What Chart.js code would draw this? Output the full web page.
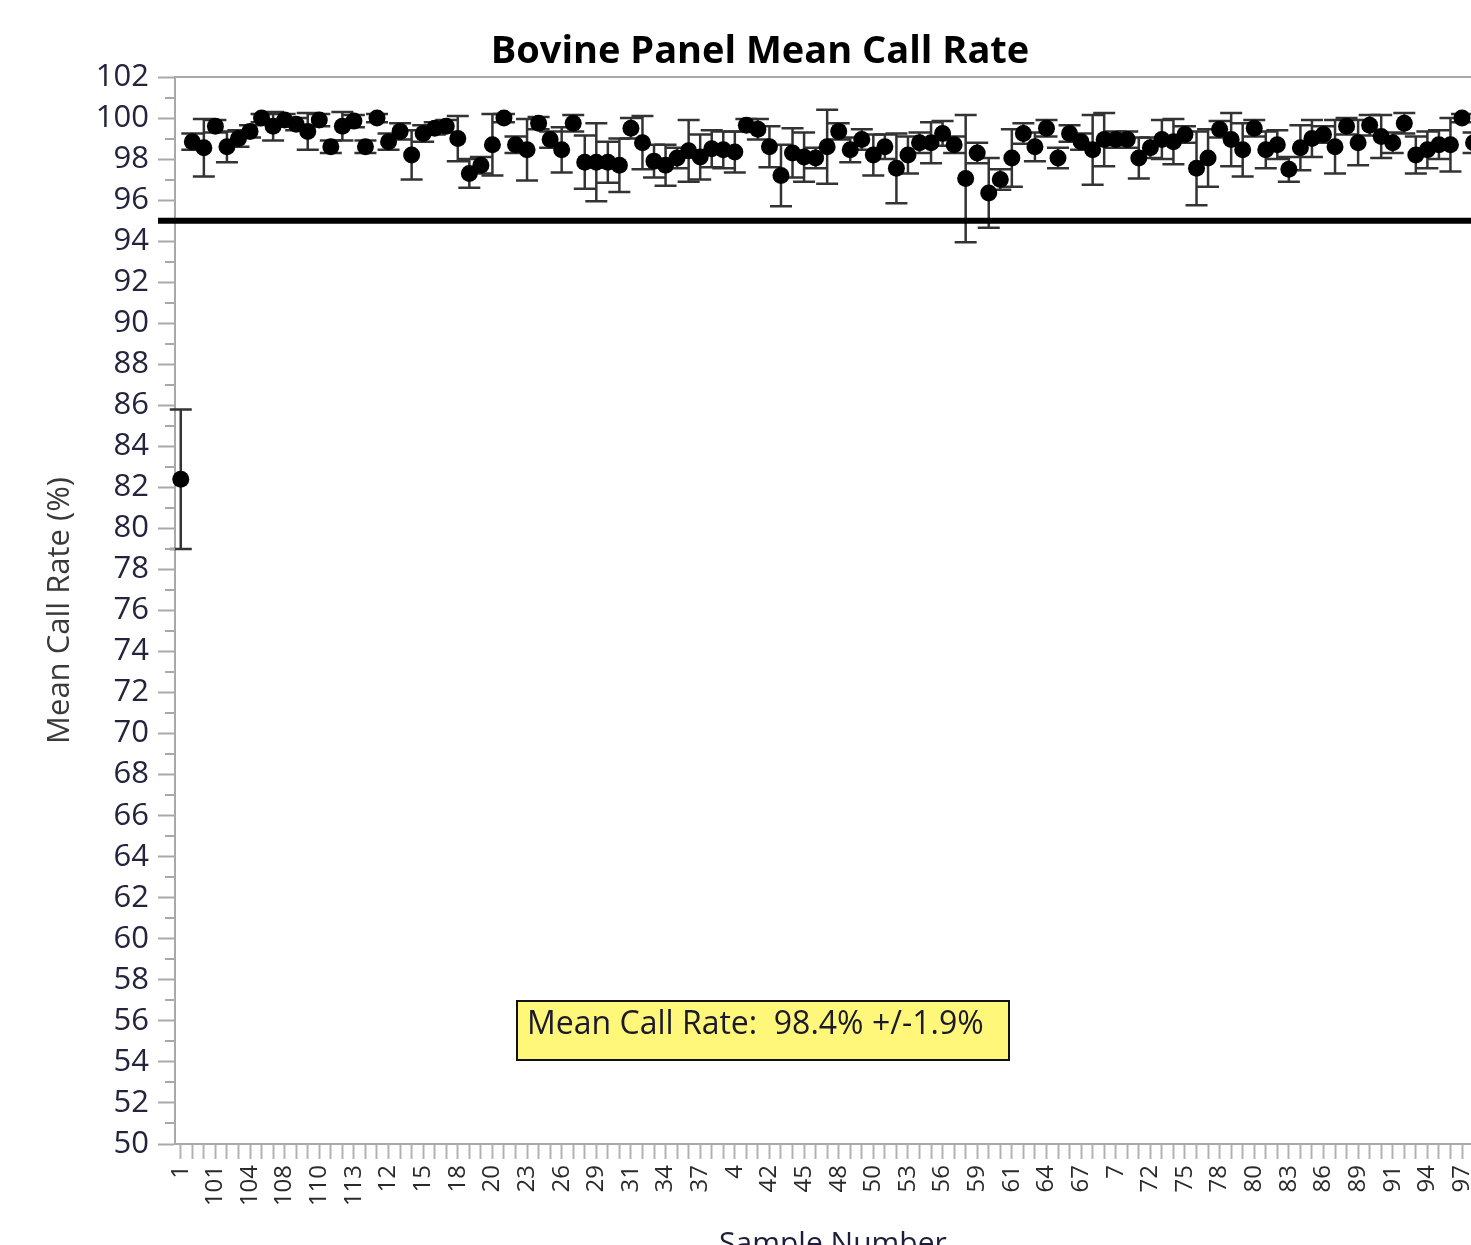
<!DOCTYPE html>
<html>
<head>
<meta charset="utf-8">
<title>Bovine Panel Mean Call Rate</title>
<script src="https://cdn.jsdelivr.net/npm/chart.js@4.4.1/dist/chart.umd.min.js"></script>
<style>
  html, body { margin: 0; padding: 0; background: #ffffff; overflow: hidden; }
  #wrap { width: 1471px; height: 1245px; overflow: hidden; position: relative; }
  canvas { display: block; }
</style>
</head>
<body>
<div id="wrap"><canvas id="chart" width="1520" height="1272"></canvas></div>
<script>
// Sample identifiers, in the (text-sorted) order they appear along the axis
const sampleIds = [
  "1","10","100","101","102","103","104","105","106","108","109","11","110","111","112","113","114","115",
  "12","13","14","15","16","17","18","19","2","20","21","22","23","24","25","26","27","28","29",
  "3","30","31","32","33","34","35","36","37","38","39","4","40","41","42","43","44","45","46","47","48","49",
  "5","50","51","52","53","54","55","56","57","58","59","6","60","61","62","63","64","65","66","67","68","69",
  "7","70","71","72","73","74","75","76","77","78","79","8","80","81","82","83","84","85","86","87","88","89",
  "9","90","91","92","93","94","95","96","97","98","99"
];

// Mean call rate (%) per sample
const meanCallRate = [
  82.4, 98.85, 98.55, 99.6, 98.6, 99.0, 99.35, 100.0, 99.6, 99.9,
  99.7, 99.35, 99.9, 98.6, 99.6, 99.85, 98.6, 100.0, 98.85, 99.35,
  98.2, 99.25, 99.5, 99.6, 99.0, 97.3, 97.7, 98.7, 100.0, 98.7,
  98.45, 99.75, 98.95, 98.45, 99.75, 97.85, 97.85, 97.85, 97.7, 99.5,
  98.8, 97.9, 97.7, 98.05, 98.4, 98.1, 98.5, 98.45, 98.35, 99.65,
  99.45, 98.6, 97.2, 98.3, 98.1, 98.05, 98.6, 99.35, 98.45, 98.95,
  98.2, 98.6, 97.55, 98.2, 98.8, 98.8, 99.25, 98.7, 97.05, 98.3,
  96.35, 97.0, 98.05, 99.25, 98.6, 99.5, 98.05, 99.25, 98.85, 98.45,
  98.95, 98.95, 98.95, 98.05, 98.55, 98.95, 98.85, 99.2, 97.55, 98.05,
  99.45, 98.95, 98.45, 99.5, 98.45, 98.7, 97.5, 98.55, 99.0, 99.2,
  98.6, 99.6, 98.8, 99.65, 99.1, 98.8, 99.75, 98.2, 98.45, 98.7,
  98.7, 100.0, 98.8, 99.0
];

// Standard deviation (%) per sample, drawn as +/- error bars
const callRateSD = [
  3.4, 0.4, 1.4, 0.3, 0.75, 0.4, 0.3, 0.2, 0.7, 0.3,
  0.3, 0.9, 0.3, 0.3, 0.7, 0.3, 0.3, 0.2, 0.4, 0.4,
  1.2, 0.4, 0.3, 0.3, 1.1, 0.7, 0.4, 1.5, 0.2, 0.4,
  1.5, 0.3, 0.4, 1.1, 0.4, 1.3, 1.9, 1.0, 1.3, 0.5,
  1.3, 0.8, 1.0, 0.5, 1.5, 1.1, 0.9, 0.9, 1.0, 0.3,
  0.5, 1.0, 1.5, 1.2, 1.2, 0.5, 1.8, 0.4, 0.6, 0.5,
  1.0, 0.6, 1.7, 0.9, 0.5, 1.0, 0.6, 0.4, 3.1, 0.5,
  1.7, 0.5, 1.4, 0.5, 0.7, 0.4, 0.5, 0.4, 0.4, 1.7,
  1.3, 0.4, 0.4, 1.0, 0.5, 0.95, 1.1, 0.4, 1.8, 1.4,
  0.4, 1.3, 1.3, 0.4, 0.9, 0.7, 0.6, 1.1, 0.9, 0.4,
  1.3, 0.4, 1.1, 0.5, 1.05, 0.5, 0.5, 0.9, 0.9, 0.7,
  1.3, 0.2, 0.5, 0.5
];

// Sample numbers that carry a printed tick label
const xTickLabels = [
  "1","101","104","108","110","113","12","15","18","20","23","26","29","31","34","37","4","42","45",
  "48","50","53","56","59","61","64","67","7","72","75","78","80","83","86","89","91","94","97"
];

// Pass/fail threshold (%)
const thresholdRate = [95];

// Summary shown in the note box
const summaryText = ["Mean Call Rate:  98.4% +/-1.9%"];

const FONT = "'Open Sans', 'Noto Sans', sans-serif";
const AXIS_GREY = '#a9a9a9';

// Vertical +/- SD bars with caps, drawn beneath the markers
const errorBarPlugin = {
  id: 'errorBars',
  beforeDatasetsDraw(chart) {
    const { ctx, scales: { x, y } } = chart;
    ctx.save();
    ctx.strokeStyle = '#333333';
    ctx.lineWidth = 2.5;
    meanCallRate.forEach((m, i) => {
      const px = x.getPixelForValue(i);
      const top = y.getPixelForValue(m + callRateSD[i]);
      const bot = y.getPixelForValue(m - callRateSD[i]);
      ctx.beginPath();
      ctx.moveTo(px, top); ctx.lineTo(px, bot);
      ctx.moveTo(px - 11, top); ctx.lineTo(px + 11, top);
      ctx.moveTo(px - 11, bot); ctx.lineTo(px + 11, bot);
      ctx.stroke();
    });
    ctx.restore();
  }
};

// Frame top edge, minor y ticks, threshold line and summary note
const decorPlugin = {
  id: 'decor',
  afterDatasetsDraw(chart) {
    const { ctx, chartArea: a, scales: { y } } = chart;
    ctx.save();
    // top frame line
    ctx.strokeStyle = AXIS_GREY;
    ctx.lineWidth = 2;
    ctx.beginPath();
    ctx.moveTo(a.left, a.top); ctx.lineTo(a.right, a.top);
    ctx.stroke();
    // minor ticks at odd values
    ctx.beginPath();
    for (let v = y.min + 1; v < y.max; v += 2) {
      const py = Math.round(y.getPixelForValue(v));
      ctx.moveTo(a.left - 10, py); ctx.lineTo(a.left, py);
    }
    ctx.stroke();
    // threshold line
    const ty = y.getPixelForValue(thresholdRate[0]);
    ctx.strokeStyle = '#000000';
    ctx.lineWidth = 6;
    ctx.beginPath();
    ctx.moveTo(a.left - 17, ty); ctx.lineTo(a.right, ty);
    ctx.stroke();
    // summary note
    const bx = 517, by = 1001, bw = 492, bh = 59;
    ctx.fillStyle = '#fff77a';
    ctx.fillRect(bx, by, bw, bh);
    ctx.strokeStyle = '#111111';
    ctx.lineWidth = 2;
    ctx.strokeRect(bx, by, bw, bh);
    ctx.fillStyle = '#1a1a2a';
    ctx.font = `32px ${FONT}`;
    ctx.textBaseline = 'alphabetic';
    ctx.textAlign = 'left';
    ctx.fillText(summaryText[0], bx + 10, by + 33);
    ctx.restore();
  }
};

new Chart(document.getElementById('chart'), {
  type: 'line',
  data: {
    labels: sampleIds,
    datasets: [{
      label: 'Mean Call Rate',
      data: meanCallRate,
      showLine: false,
      pointRadius: 8.5,
      pointHoverRadius: 8.5,
      pointBackgroundColor: '#000000',
      pointBorderWidth: 0,
      borderColor: '#000000'
    }]
  },
  options: {
    responsive: false,
    animation: false,
    events: [],
    layout: { padding: 0 },
    plugins: {
      legend: { display: false },
      tooltip: { enabled: false },
      title: {
        display: true,
        text: 'Bovine Panel Mean Call Rate',
        color: '#000000',
        font: { family: FONT, size: 38, weight: 'bold' },
        padding: { top: 29, bottom: 2.4 }
      }
    },
    scales: {
      x: {
        type: 'category',
        offset: true,
        afterFit(scale) { scale.height = 128; },
        grid: {
          display: true,
          drawOnChartArea: false,
          drawTicks: true,
          tickLength: 15,
          tickColor: '#b3b3b3',
          tickWidth: 2
        },
        border: { display: true, color: AXIS_GREY, width: 2 },
        ticks: {
          autoSkip: false,
          minRotation: 90,
          maxRotation: 90,
          padding: 6,
          color: '#2a2a2a',
          font: { family: FONT, size: 24 },
          callback(value, index) {
            const id = sampleIds[index];
            return xTickLabels.includes(id) ? id : '';
          }
        },
        title: {
          display: true,
          text: 'Sample Number',
          color: '#1e1e3a',
          font: { family: FONT, size: 30 },
          padding: { top: 0, bottom: 10 }
        }
      },
      y: {
        min: 50,
        max: 102,
        afterFit(scale) { scale.width = 175; },
        grid: {
          display: true,
          drawOnChartArea: false,
          drawTicks: true,
          tickLength: 17,
          tickColor: AXIS_GREY,
          tickWidth: 2
        },
        border: { display: true, color: AXIS_GREY, width: 2 },
        ticks: {
          stepSize: 2,
          padding: 9,
          color: '#24243e',
          font: { family: FONT, size: 31 }
        },
        title: {
          display: true,
          text: 'Mean Call Rate (%)',
          color: '#3a3a3a',
          font: { family: FONT, size: 31 },
          padding: { top: 42, bottom: 0 }
        }
      },
      // empty right-hand margin beside the plot frame
      yRight: {
        position: 'right',
        min: 50,
        max: 102,
        afterFit(scale) { scale.width = 26; },
        grid: { display: false },
        border: { display: false },
        ticks: { display: false }
      }
    }
  },
  plugins: [errorBarPlugin, decorPlugin]
});
</script>
</body>
</html>
